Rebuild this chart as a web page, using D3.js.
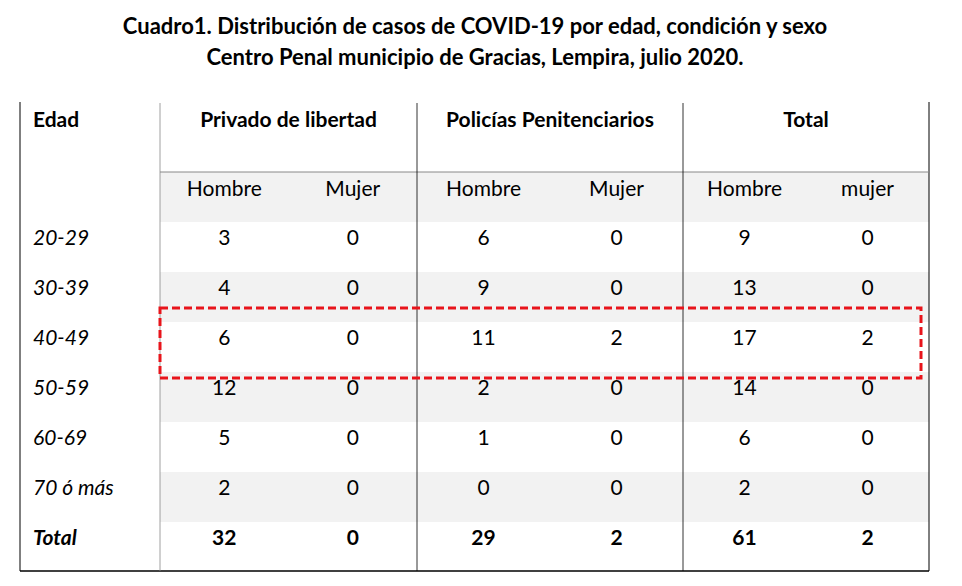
<!DOCTYPE html>
<html><head><meta charset="utf-8">
<script src="https://cdn.jsdelivr.net/npm/d3@7"></script>
<style>body{margin:0;background:#fff}text{font-family:Lato,"Open Sans",sans-serif;fill:#000}</style>
</head><body>
<svg id="chart" width="962" height="586"></svg>
<script>
// table data
var titleLines = ["Cuadro1.  Distribución de casos de COVID-19 por edad, condición y sexo",
                  "Centro Penal municipio de Gracias, Lempira, julio 2020."];
var groups = ["Privado de libertad", "Policías Penitenciarios", "Total"];
var subHeaders = ["Hombre", "Mujer", "Hombre", "Mujer", "Hombre", "mujer"];
var ageGroups = ["20-29", "30-39", "40-49", "50-59", "60-69", "70 ó más", "Total"];
var privadoH = [3, 4, 6, 12, 5, 2, 32];
var privadoM = [0, 0, 0, 0, 0, 0, 0];
var policiaH = [6, 9, 11, 2, 1, 0, 29];
var policiaM = [0, 0, 2, 0, 0, 0, 2];
var totalH = [9, 13, 17, 14, 6, 2, 61];
var totalM = [0, 0, 2, 0, 0, 0, 2];
var highlightRow = "40-49";

var svg = d3.select("#chart");
var columns = [privadoH, privadoM, policiaH, policiaM, totalH, totalM];

var left = 20, right = 929, firstCol = 160, bottom = 571;
// group boundaries are not equal in the original
var xg = d3.scaleLinear().domain([0, 1, 2, 3]).range([firstCol, 417, 683, right]);
function groupMid(i){ return (xg(i) + xg(i + 1)) / 2; }
function subMid(c){ var g = Math.floor(c / 2), w = xg(g + 1) - xg(g); return xg(g) + w * (c % 2 ? 0.75 : 0.25); }
var rowKeys = ["sub"].concat(ageGroups);
var y = d3.scaleBand().domain(rowKeys).range([172, 572]);

// stripes
svg.selectAll("rect.band").data(rowKeys.filter(function(d, i){ return i % 2 == 0 && i < 7; }))
  .enter().append("rect")
  .attr("x", firstCol).attr("width", right - firstCol)
  .attr("y", function(d){ return y(d); }).attr("height", y.bandwidth())
  .attr("fill", "#f2f2f2");

// title
svg.selectAll("text.title").data(titleLines).enter().append("text")
  .attr("x", 475).attr("y", function(d, i){ return 34 + i * 31; })
  .attr("text-anchor", "middle").attr("font-weight", "bold").attr("font-size", 22)
  .text(function(d){ return d; });

// lines
svg.append("line").attr("x1", left).attr("x2", left).attr("y1", 102).attr("y2", bottom).attr("stroke", "#000");
svg.append("line").attr("x1", right).attr("x2", right).attr("y1", 102).attr("y2", bottom).attr("stroke", "#000");
svg.append("line").attr("x1", left).attr("x2", right).attr("y1", bottom).attr("y2", bottom).attr("stroke", "#000").attr("stroke-width", 1.5);
svg.append("line").attr("x1", firstCol).attr("x2", right).attr("y1", 172).attr("y2", 172).attr("stroke", "#888");
svg.selectAll("line.vg").data(d3.range(3)).enter().append("line")
  .attr("x1", function(d){ return xg(d); }).attr("x2", function(d){ return xg(d); })
  .attr("y1", 103).attr("y2", bottom)
  .attr("stroke", function(d){ return d == 0 ? "#888" : "#000"; }).attr("stroke-width", 0.8);

// headers
svg.append("text").attr("x", 33).attr("y", 127).attr("font-weight", "bold").attr("font-size", 21).text("Edad");
svg.selectAll("text.group").data(groups).enter().append("text")
  .attr("x", function(d, i){ return groupMid(i); }).attr("y", 127)
  .attr("text-anchor", "middle").attr("font-weight", "bold").attr("font-size", 21)
  .text(function(d){ return d; });
svg.selectAll("text.sub").data(subHeaders).enter().append("text")
  .attr("x", function(d, i){ return subMid(i); }).attr("y", 196)
  .attr("text-anchor", "middle").attr("font-size", 21)
  .text(function(d){ return d; });

// rows
ageGroups.forEach(function(age, r){
  var isTotal = age == "Total";
  var ty = y(age) + 23;
  svg.append("text").attr("x", 33).attr("y", ty).attr("font-size", 21)
    .attr("font-style", "italic").attr("font-weight", isTotal ? "bold" : "normal").text(age);
  columns.forEach(function(col, c){
    svg.append("text").attr("x", subMid(c)).attr("y", ty)
      .attr("text-anchor", "middle").attr("font-size", 21)
      .attr("font-weight", isTotal ? "bold" : "normal").text(col[r]);
  });
});

// highlight box
svg.append("rect").attr("x", firstCol).attr("width", 921 - firstCol)
  .attr("y", y(highlightRow) - 14).attr("height", y.bandwidth() + 20)
  .attr("fill", "none").attr("stroke", "#e8141b").attr("stroke-width", 3).attr("stroke-dasharray", "8,4");
</script>
</body></html>
